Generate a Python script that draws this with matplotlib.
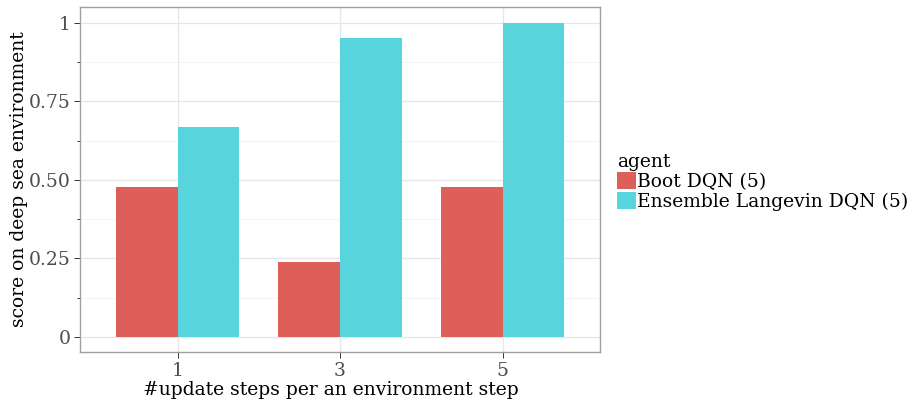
import matplotlib
matplotlib.use("Agg")
import matplotlib.pyplot as plt
import numpy as np
from matplotlib.patches import Patch

categories = ["1", "3", "5"]
agents = ["Boot DQN (5)", "Ensemble Langevin DQN (5)"]
boot_scores = [0.476, 0.238, 0.476]
langevin_scores = [0.667, 0.952, 1.0]
colors = ["#DE5F59", "#58D4DC"]
yticks = [0, 0.25, 0.5, 0.75, 1.0]
ytick_labels = ["0", "0.25", "0.50", "0.75", "1"]

plt.rcParams["font.family"] = ["DejaVu Serif"]
fs = 13.5

fig = plt.figure(figsize=(9.11, 3.99), dpi=100)
ax = fig.add_axes([80 / 911, 1 - 352 / 399, 520 / 911, 345 / 399])

x = np.arange(len(categories))
w = 0.38
ax.bar(x - w / 2, boot_scores, width=w, color=colors[0], zorder=3)
ax.bar(x + w / 2, langevin_scores, width=w, color=colors[1], zorder=3)

ax.set_xlim(-0.6, 2.6)
ax.set_ylim(-0.048, 1.05)
ax.set_xticks(x)
ax.set_xticklabels(categories)
ax.set_yticks(yticks)
ax.set_yticklabels(ytick_labels)
ax.set_yticks([0.125, 0.375, 0.625, 0.875], minor=True)

ax.grid(True, which="major", color="#E6E6E6", linewidth=0.9, zorder=0)
ax.grid(True, which="minor", axis="y", color="#F3F3F3", linewidth=0.7, zorder=0)
for s in ax.spines.values():
    s.set_color("#A0A0A0")
    s.set_linewidth(1.0)

ax.tick_params(axis="both", which="major", labelsize=fs, labelcolor="#4D4D4D",
               color="#333333", length=4, width=0.7, pad=3)
ax.tick_params(axis="y", which="minor", color="#333333", length=2, width=0.7)
ax.tick_params(axis="x", which="minor", length=0)

ax.set_xlabel("#update steps per an environment step", fontsize=fs)
ax.xaxis.set_label_coords((331 - 80) / 520, (352 - 381) / 345)
ax.set_ylabel("score on deep sea environment", fontsize=fs, labelpad=0.5)

handles = [Patch(facecolor=c, edgecolor="none") for c in colors]
leg = fig.legend(handles, agents, title="agent", loc="center left",
                 bbox_to_anchor=(613 / 911, 1 - 182 / 399), frameon=False,
                 fontsize=fs, title_fontsize=fs, handlelength=1.0,
                 handleheight=1.0, handletextpad=0.1, labelspacing=0.05,
                 borderaxespad=0, borderpad=0.2)
leg._legend_box.align = "left"

fig.savefig("out.png", dpi=100)
